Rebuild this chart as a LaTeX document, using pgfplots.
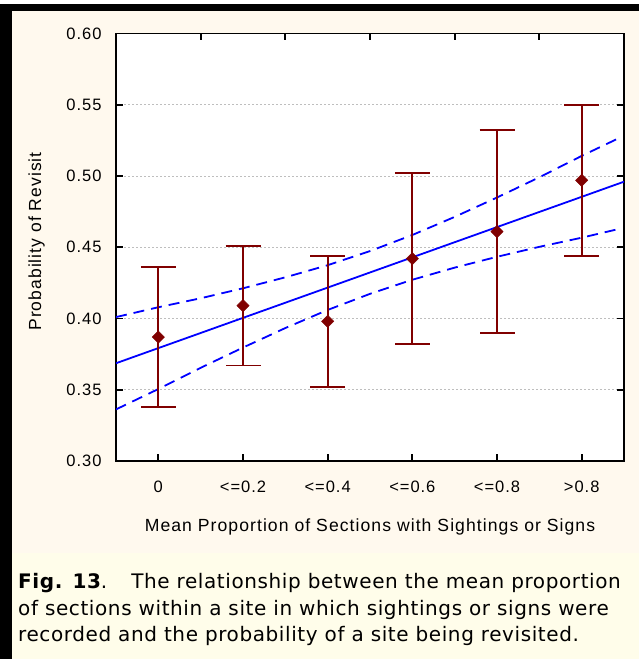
\documentclass[border=0pt]{standalone}
\usepackage{fontspec}
\setmainfont{Liberation Sans}
\newfontfamily\axisfont[LetterSpace=6]{Liberation Sans}
\newfontfamily\capfont[LetterSpace=3]{DejaVu Sans}
\usepackage{pgfplots}
\pgfplotsset{compat=1.18}

\definecolor{panel}{RGB}{255,249,238}
\definecolor{capbg}{RGB}{255,253,234}
\definecolor{bardark}{RGB}{128,0,0}
\definecolor{fitblue}{RGB}{0,0,255}
\definecolor{gridgray}{RGB}{190,190,190}

\begin{document}
\begin{tikzpicture}[x=1pt,y=1pt]
% page frame and backgrounds
\path[use as bounding box] (0,0) rectangle (639,659);
\fill[panel] (0,0) rectangle (639,655);
\fill[capbg] (12,0) rectangle (639,106);
\fill[black] (0,0) rectangle (12,655);
\fill[black] (0,648) rectangle (639,655);

\begin{axis}[
  at={(116pt,198pt)}, anchor=south west,
  scale only axis, width=508pt, height=427.5pt,
  xmin=-0.5, xmax=5.5, ymin=0.30, ymax=0.60,
  axis background/.style={fill=white},
  axis line style={line width=1.8pt, black},
  xtick={0,1,2,3,4,5},
  xticklabels={0,{<=0.2},{<=0.4},{<=0.6},{<=0.8},{>0.8}},
  xtick pos=lower,
  ytick={0.30,0.35,0.40,0.45,0.50,0.55,0.60},
  yticklabels={0.30,0.35,0.40,0.45,0.50,0.55,0.60},
  tick align=inside, major tick length=7pt,
  tick style={line width=1.8pt, black},
  ymajorgrids,
  grid style={gridgray, line width=0.9pt, dash pattern=on 2pt off 2pt},
  ticklabel style={font=\axisfont\fontsize{16.5}{18}\selectfont},
  xticklabel style={anchor=base, inner sep=0pt, yshift=-31.7pt},
  yticklabel style={anchor=east, inner sep=0pt, xshift=-14.3pt},
  xlabel={Mean Proportion of Sections with Sightings or Signs},
  ylabel={Probability of Revisit},
  every axis x label/.style={at={(axis description cs:0.5,-0.1537)}, anchor=center,
    font=\axisfont\fontsize{17.6}{19}\selectfont},
  every axis y label/.style={at={(axis description cs:-0.1561,0.5135)}, rotate=90, anchor=center,
    font=\axisfont\fontsize{17.5}{19}\selectfont},
]
% fitted regression line
\addplot[fitblue, line width=1.8pt] coordinates {(-0.5,0.3686) (5.5,0.4960)};
% upper confidence band
\addplot[fitblue, line width=1.8pt, dash pattern=on 11pt off 7pt] coordinates {
  (-0.5,0.4010) (0,0.4079) (0.5,0.4142) (1,0.4212) (1.5,0.4289) (2,0.4374)
  (2.5,0.4473) (3,0.4586) (3.5,0.4713) (4,0.4849) (4.5,0.4991) (5,0.5141) (5.43,0.5263)};
% lower confidence band
\addplot[fitblue, line width=1.8pt, dash pattern=on 11pt off 7pt] coordinates {
  (-0.5,0.3362) (0,0.3505) (0.5,0.3654) (1,0.3796) (1.5,0.3933) (2,0.4060)
  (2.5,0.4173) (3,0.4272) (3.5,0.4357) (4,0.4433) (4.5,0.4503) (5,0.4567) (5.43,0.4627)};
% group means with error bars
\addplot[only marks, mark=square*, mark size=4.35pt,
  mark options={rotate=45, fill=bardark, draw=bardark},
  error bars/.cd, y dir=both, y explicit,
  error bar style={bardark, line width=1.8pt},
  error mark options={rotate=90, mark size=17.5pt, line width=1.8pt, bardark}]
  coordinates {
  (0,0.387) +- (0,0.049)
  (1,0.409) +- (0,0.042)
  (2,0.398) +- (0,0.046)
  (3,0.442) +- (0,0.060)
  (4,0.461) +- (0,0.071)
  (5,0.497) +- (0,0.053)};
\end{axis}

% ticks along the top edge between categories
\begin{axis}[
  at={(116pt,198pt)}, anchor=south west,
  scale only axis, width=508pt, height=427.5pt,
  xmin=-0.5, xmax=5.5, ymin=0.30, ymax=0.60,
  hide y axis, axis x line*=top,
  axis line style={line width=1.8pt, black},
  xtick={0.5,1.5,2.5,3.5,4.5}, xticklabels={},
  tick align=inside, major tick length=7pt,
  tick style={line width=1.8pt, black},
]
\end{axis}

% caption
\begin{scope}[every node/.style={anchor=base west, inner sep=0pt, font=\capfont\fontsize{20}{24}\selectfont}]
\node at (18,70) {\textbf{Fig. 13}.\hspace{24pt}The relationship between the mean proportion};
\node at (18,43.5) {of sections within a site in which sightings or signs were};
\node at (18,17) {recorded and the probability of a site being revisited.};
\end{scope}
\end{tikzpicture}
\end{document}
